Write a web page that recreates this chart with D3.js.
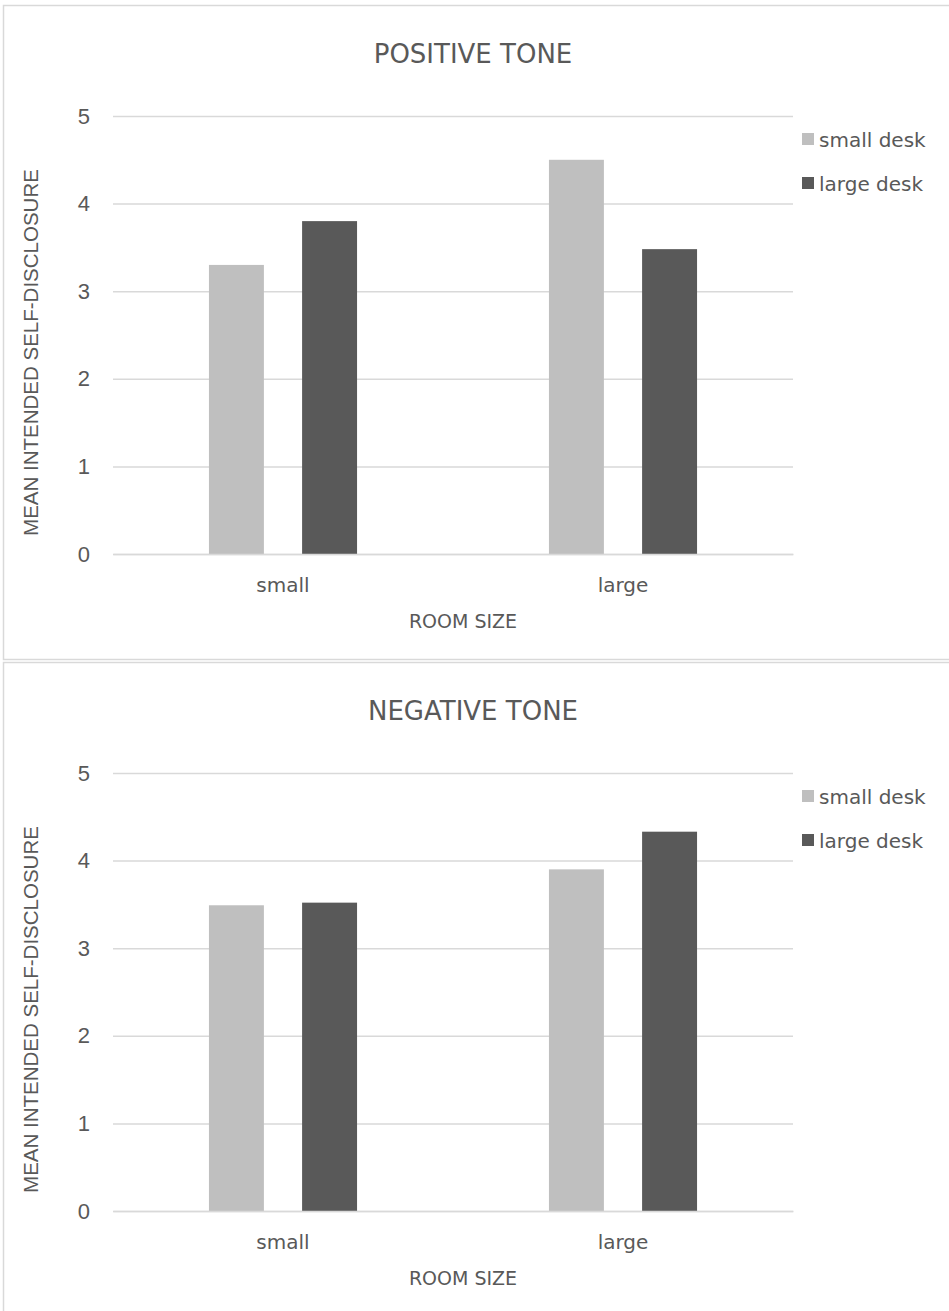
<!DOCTYPE html>
<html><head><meta charset="utf-8">
<script src="https://cdn.jsdelivr.net/npm/d3@7"></script>
<style>body{margin:0;background:#fff}svg{display:block}</style>
</head><body>
<svg id="c" width="949" height="1311"></svg>
<script>
const categories = ["small", "large"];
const seriesNames = ["small desk", "large desk"];
const positiveSmallDesk = [3.30, 4.50];
const positiveLargeDesk = [3.80, 3.48];
const negativeSmallDesk = [3.49, 3.90];
const negativeLargeDesk = [3.52, 4.33];
const yTicks = [0, 1, 2, 3, 4, 5];
const colors = ["#bfbfbf", "#595959"];

const svg = d3.select("#c");
const panels = [
  {title: "POSITIVE TONE", top: 5, bottom: 659, series: [positiveSmallDesk, positiveLargeDesk]},
  {title: "NEGATIVE TONE", top: 662, bottom: 1320, series: [negativeSmallDesk, negativeLargeDesk]}
];
const lib = "'Liberation Sans', Arial, sans-serif";
const dej = "'DejaVu Sans', sans-serif";
const txt = "#595959";

panels.forEach(p => {
  const g = svg.append("g");
  g.append("rect").attr("x", 3.5).attr("y", p.top + 0.5).attr("width", 960).attr("height", p.bottom - p.top)
    .attr("fill", "#fff").attr("stroke", "#d9d9d9").attr("stroke-width", 1.5);
  const y0 = p.top + 549, y5 = p.top + 111;
  const y = d3.scaleLinear().domain([0, 5]).range([y0, y5]);
  const x = d3.scaleBand().domain(categories).range([113, 793]);
  const xs = d3.scaleBand().domain(seriesNames).range([0, x.bandwidth()]).paddingInner(0.41).paddingOuter(1.03);

  g.append("text").attr("x", 473).attr("y", p.top + 58).attr("text-anchor", "middle")
    .attr("font-family", dej).attr("font-size", 26).attr("fill", txt).text(p.title);

  const ya = g.append("g").attr("transform", "translate(113,0)")
    .call(d3.axisLeft(y).tickValues(yTicks).tickSize(-680).tickPadding(23).tickFormat(d3.format("d")));
  ya.select(".domain").remove();
  ya.selectAll(".tick line").attr("stroke", "#d9d9d9").attr("stroke-width", 1.5);
  ya.selectAll(".tick text").attr("font-family", lib).attr("font-size", 22).attr("fill", txt);

  p.series.forEach((vals, si) => {
    g.selectAll(null).data(vals).enter().append("rect")
      .attr("x", (d, i) => x(categories[i]) + xs(seriesNames[si]))
      .attr("width", xs.bandwidth())
      .attr("y", d => y(d)).attr("height", d => y0 - y(d))
      .attr("fill", colors[si]);
  });

  const xa = g.append("g").attr("transform", `translate(0,${y0})`)
    .call(d3.axisBottom(x).tickSize(0).tickPadding(0));
  xa.select(".domain").attr("stroke", "#d9d9d9").attr("stroke-width", 1.5);
  xa.selectAll(".tick text").attr("dy", null).attr("y", 38)
    .attr("font-family", dej).attr("font-size", 20).attr("fill", txt);

  g.append("text").attr("x", 463).attr("y", p.top + 623).attr("text-anchor", "middle")
    .attr("font-family", dej).attr("font-size", 19).attr("fill", txt).text("ROOM SIZE");
  g.append("text").attr("transform", `translate(38,${p.top + 347.5}) rotate(-90)`).attr("text-anchor", "middle")
    .attr("font-family", lib).attr("font-size", 20.5).attr("fill", txt).text("MEAN INTENDED SELF-DISCLOSURE");

  seriesNames.forEach((s, i) => {
    const base = p.top + 142 + i * 44;
    g.append("rect").attr("x", 802).attr("y", base - 14).attr("width", 12).attr("height", 12).attr("fill", colors[i]);
    g.append("text").attr("x", 819).attr("y", base)
      .attr("font-family", dej).attr("font-size", 20).attr("fill", txt).text(s);
  });
});
</script>
</body></html>
